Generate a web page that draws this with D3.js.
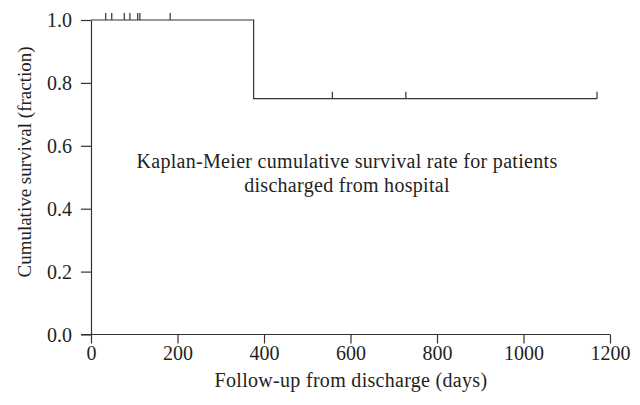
<!DOCTYPE html>
<html><head><meta charset="utf-8">
<script src="https://cdn.jsdelivr.net/npm/d3@7"></script>
<style>body{margin:0;background:#fff}svg{display:block}text{font-family:"Liberation Serif","DejaVu Serif",serif;fill:#231f20}</style>
</head><body>
<svg id="c" width="640" height="405"></svg>
<script>
const stepTimes = [0, 376, 1170];
const stepSurvival = [1.0, 0.75, 0.75];
const censorTimes = [34, 48, 77, 90, 108, 113, 183, 558, 728, 1170];
const xTicks = [0, 200, 400, 600, 800, 1000, 1200];
const yTicks = [0.0, 0.2, 0.4, 0.6, 0.8, 1.0];
const xLabel = "Follow-up from discharge (days)";
const yLabel = "Cumulative survival (fraction)";
const noteLines = ["Kaplan-Meier cumulative survival rate for patients", "discharged from hospital"];

const svg = d3.select("#c");
const x = d3.scaleLinear().domain([0, 1200]).range([91, 610]);
const y = d3.scaleLinear().domain([0, 1]).range([334.5, 20]);
const stroke = "#333";

const xa = svg.append("g").attr("transform", "translate(0,334.5)")
  .call(d3.axisBottom(x).tickValues(xTicks).tickFormat(d3.format("d")).tickSize(9).tickSizeOuter(0));
const ya = svg.append("g").attr("transform", "translate(91,0)")
  .call(d3.axisLeft(y).tickValues(yTicks).tickFormat(d3.format(".1f")).tickSize(10).tickSizeOuter(0));
[xa, ya].forEach(a => {
  a.selectAll("path,line").attr("stroke", stroke).attr("stroke-width", 1.2);
  a.selectAll("text").style("font-size", "20px").attr("fill", "#231f20").style("font-family", '"Liberation Serif",serif');
});
xa.select(".domain").attr("d", `M${x(0)-10},0H${x(1200)}`);
xa.selectAll(".tick text").attr("y", 25).attr("dy", null);
ya.selectAll(".tick text").attr("x", -19).attr("dy", "0.33em");

// survival step function
const pts = stepTimes.map((t, i) => [t, stepSurvival[i]]);
svg.append("path")
  .attr("d", d3.line().x(d => x(d[0])).y(d => y(d[1])).curve(d3.curveStepAfter)(pts))
  .attr("fill", "none").attr("stroke", stroke).attr("stroke-width", 1.2);

// censor marks
function survAt(t) { let s = 1; stepTimes.forEach((st, i) => { if (t >= st) s = stepSurvival[i]; }); return s; }
svg.selectAll(".cens").data(censorTimes).join("line")
  .attr("x1", d => x(d)).attr("x2", d => x(d))
  .attr("y1", d => y(survAt(d))).attr("y2", d => y(survAt(d)) - 7)
  .attr("stroke", stroke).attr("stroke-width", 1.2);

svg.append("text").attr("x", 351).attr("y", 387).attr("text-anchor", "middle")
  .style("font-size", "20px").style("letter-spacing", "0.3px").text(xLabel);
svg.append("text").attr("transform", "translate(31,162) rotate(-90)").attr("text-anchor", "middle")
  .style("font-size", "19px").text(yLabel);
svg.selectAll(".note").data(noteLines).join("text")
  .attr("x", 347).attr("y", (d, i) => 168 + i * 24).attr("text-anchor", "middle")
  .style("font-size", "20px").style("letter-spacing", "0.3px").text(d => d);
</script>
</body></html>
